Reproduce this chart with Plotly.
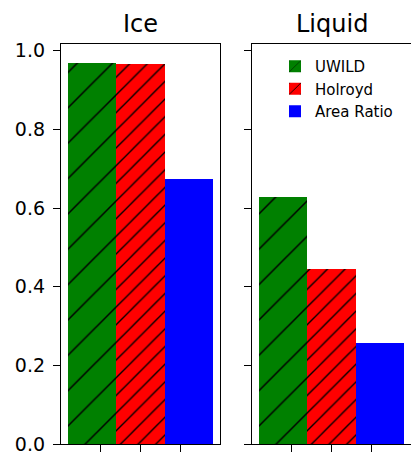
import plotly.graph_objects as go

# ---- data ----
panels = ["Ice", "Liquid"]
series_names = ["UWILD", "Holroyd", "Area Ratio"]
uwild = [0.968, 0.629]
holroyd = [0.966, 0.444]
area_ratio = [0.675, 0.258]
x_ticks = [-1, 0, 1]

series_values = [uwild, holroyd, area_ratio]
colors = ["#008000", "#ff0000", "#0000ff"]
patterns = [dict(shape="/", size=25, solidity=0.06, fgcolor="black", fgopacity=1),
            dict(shape="/", size=12.5, solidity=0.11, fgcolor="black", fgopacity=1),
            dict(shape="")]
bar_w = 1.2
offsets = [-bar_w, 0, bar_w]

W, H = 411, 454
font = "DejaVu Sans"

fig = go.Figure()
for p, panel in enumerate(panels):
    xa = "x" if p == 0 else "x2"
    ya = "y" if p == 0 else "y2"
    for s, name in enumerate(series_names):
        fig.add_trace(go.Bar(
            x=[offsets[s]], y=[series_values[s][p]], width=[bar_w],
            name=name, legendgroup=name, showlegend=(p == 1),
            marker=dict(color=colors[s], line=dict(width=0), pattern=patterns[s]),
            xaxis=xa, yaxis=ya,
        ))

def px_x(v):
    return v / W

def px_y(v):
    return (H - v) / H

ydom = [px_y(444), px_y(44)]
axis_common = dict(showline=True, linecolor="black", linewidth=1.3, ticks="outside",
                   ticklen=7, tickwidth=1.3, tickcolor="black", showgrid=False,
                   zeroline=False, automargin=False)

fig.update_layout(
    width=W, height=H, margin=dict(l=0, r=0, t=0, b=0, autoexpand=False),
    paper_bgcolor="white", plot_bgcolor="white",
    font=dict(family=font, color="black"),
    bargap=0, barmode="overlay",
    xaxis=dict(domain=[px_x(61), px_x(220)], range=[-1.98, 1.98], tickvals=x_ticks,
               showticklabels=False, mirror=True, anchor="y", **axis_common),
    xaxis2=dict(domain=[px_x(252), 1.0], range=[-1.98, 1.98], tickvals=x_ticks,
                showticklabels=False, mirror=True, anchor="y2", **axis_common),
    yaxis=dict(domain=ydom, range=[0, 1.017], tickvals=[0, 0.2, 0.4, 0.6, 0.8, 1.0],
               ticktext=["0.0", "0.2", "0.4", "0.6", "0.8", "1.0"], ticklabeloverflow="allow",
               ticklabelstandoff=4,
               tickfont=dict(size=19, family=font), mirror=True, anchor="x", **axis_common),
    yaxis2=dict(domain=ydom, range=[0, 1.017], tickvals=[0, 0.2, 0.4, 0.6, 0.8, 1.0],
                showticklabels=False, mirror=False, anchor="x2", matches="y", **axis_common),
    legend=dict(x=px_x(275), y=px_y(50), xanchor="left", yanchor="top",
                bgcolor="rgba(0,0,0,0)", font=dict(size=15, family=font),
                itemwidth=30, tracegroupgap=0),
    showlegend=True,
)

centers = [(61 + 220) / 2, (252 + 411) / 2]
for p, panel in enumerate(panels):
    fig.add_annotation(text=panel, x=px_x(centers[p]), y=px_y(23.5), xref="paper", yref="paper",
                       xanchor="center", yanchor="middle", showarrow=False,
                       font=dict(size=24, family=font, color="black"))

fig.write_html("out.html")
